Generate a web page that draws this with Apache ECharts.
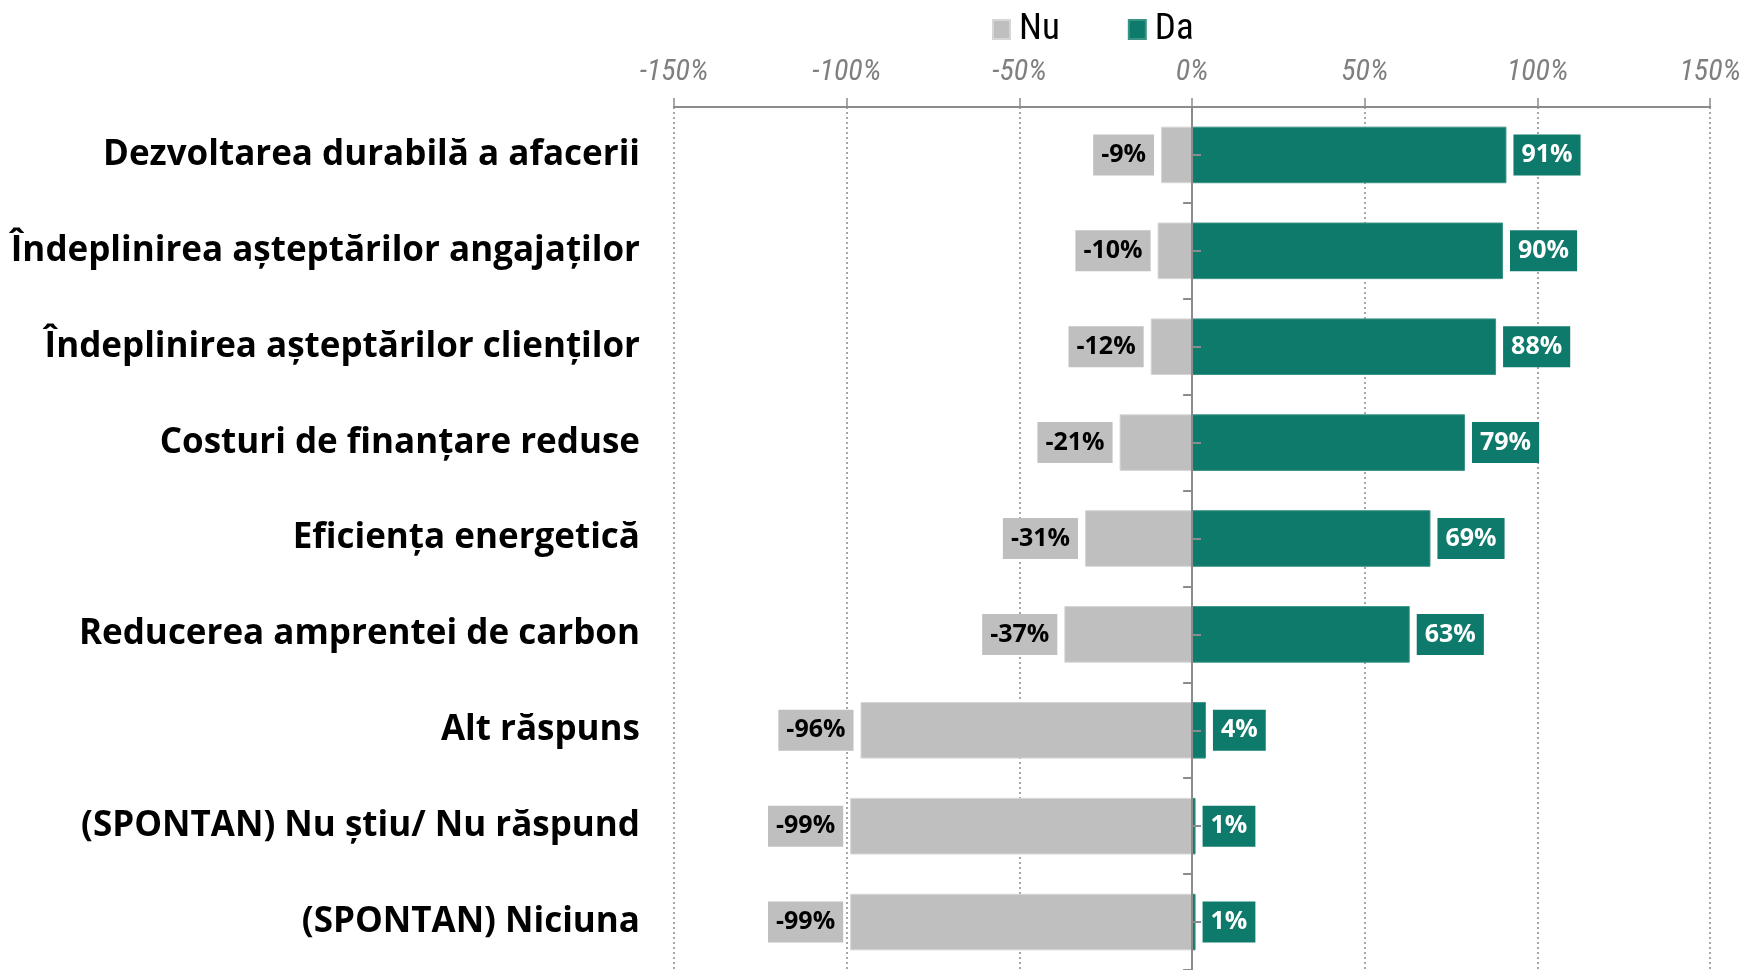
<!DOCTYPE html>
<html>
<head>
<meta charset="utf-8">
<script src="https://cdn.jsdelivr.net/npm/echarts@6/dist/echarts.min.js"></script>
<style>
  html, body { margin: 0; padding: 0; background: #fff; }
  #chart { width: 1744px; height: 970px; }
</style>
</head>
<body>
<div id="chart"></div>
<script>
// date
const categories = [
  'Dezvoltarea durabilă a afacerii',
  'Îndeplinirea așteptărilor angajaților',
  'Îndeplinirea așteptărilor clienților',
  'Costuri de finanțare reduse',
  'Eficiența energetică',
  'Reducerea amprentei de carbon',
  'Alt răspuns',
  '(SPONTAN) Nu știu/ Nu răspund',
  '(SPONTAN) Niciuna'
]
const nuValues = [-9, -10, -12, -21, -31, -37, -96, -99, -99]
const daValues = [91, 90, 88, 79, 69, 63, 4, 1, 1]
const seriesNames = ['Nu', 'Da']

const grey = '#bfbfbf'
const teal = '#0e7a6b'
const axisGrey = '#8c8c8c'
const mainFont = "'Open Sans', 'Noto Sans', sans-serif"
const narrowFont = "'Liberation Sans Narrow', 'Roboto Condensed', 'Roboto', sans-serif"

const gridLeft = 674
const gridWidth = 1038

const chart = echarts.init(document.getElementById('chart'))

const baseCat = {
  type: 'category',
  data: categories,
  inverse: true
}

chart.setOption({
  animation: false,
  legend: {
    data: seriesNames,
    left: 987,
    top: 6,
    itemWidth: 17,
    itemHeight: 19,
    itemGap: 68,
    icon: 'rect',
    textStyle: { fontFamily: narrowFont, fontSize: 37, color: '#000', padding: [0, 0, 0, 4] }
  },
  grid: { left: gridLeft, width: gridWidth, top: 107, height: 865 },
  xAxis: {
    type: 'value',
    position: 'top',
    min: -150,
    max: 150,
    interval: 50,
    axisLine: { show: true, lineStyle: { color: axisGrey, width: 2 } },
    axisTick: { show: true, length: 9, lineStyle: { color: axisGrey, width: 1.5 } },
    axisLabel: {
      formatter: '{value}%',
      margin: 20,
      fontFamily: narrowFont,
      fontStyle: 'italic',
      fontSize: 30,
      color: '#7f7f7f'
    },
    splitLine: { show: true, lineStyle: { color: '#8a8a8a', type: [2, 3], width: 1.5 } }
  },
  yAxis: [
    // etichetele categoriilor, lipite de marginea stanga a gridului
    Object.assign({}, baseCat, {
      position: 'left',
      axisLine: { show: false, onZero: false },
      axisTick: { show: false },
      axisLabel: {
        margin: 34,
        fontFamily: mainFont,
        fontWeight: 'bold',
        fontSize: 35,
        color: '#000'
      }
    }),
    // linia de la 0% cu tick-uri intre categorii
    Object.assign({}, baseCat, {
      position: 'left',
      z: 5,
      axisLine: { show: true, onZero: true, lineStyle: { color: axisGrey, width: 2 } },
      axisTick: { show: true, length: 9, lineStyle: { color: axisGrey, width: 2 } },
      axisLabel: { show: false }
    }),
    // tick-uri mici in dreptul barelor, mutate la 0%
    Object.assign({}, baseCat, {
      position: 'left',
      offset: -gridWidth / 2,
      z: 5,
      axisLine: { show: false, onZero: false },
      axisTick: { show: true, inside: true, alignWithLabel: true, length: 8, lineStyle: { color: axisGrey, width: 2 } },
      axisLabel: { show: false }
    })
  ],
  series: [
    {
      name: seriesNames[0],
      type: 'bar',
      stack: 'total',
      barWidth: '59%',
      data: nuValues,
      itemStyle: { color: grey, borderColor: '#d6d6d6', borderWidth: 1 },
      label: {
        show: true,
        position: 'left',
        distance: 7,
        formatter: p => p.value + '%',
        backgroundColor: grey,
        color: '#000',
        fontFamily: mainFont,
        fontWeight: 'bold',
        fontSize: 25,
        padding: [9, 8, 7, 8]
      }
    },
    {
      name: seriesNames[1],
      type: 'bar',
      stack: 'total',
      barWidth: '59%',
      data: daValues,
      itemStyle: { color: teal, borderColor: '#3a9486', borderWidth: 1 },
      label: {
        show: true,
        position: 'right',
        distance: 7,
        formatter: p => p.value + '%',
        backgroundColor: teal,
        color: '#fff',
        fontFamily: mainFont,
        fontWeight: 'bold',
        fontSize: 25,
        padding: [9, 8, 7, 8]
      }
    }
  ]
})
</script>
</body>
</html>
